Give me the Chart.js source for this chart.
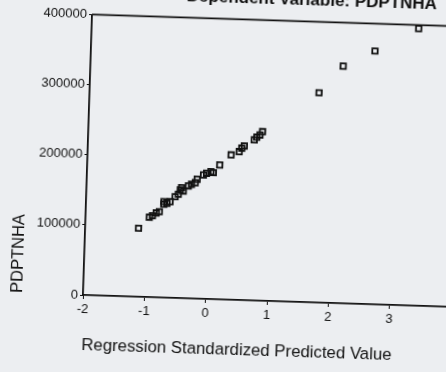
<!DOCTYPE html>
<html>
<head>
<meta charset="utf-8">
<script src="https://cdn.jsdelivr.net/npm/chart.js@4"></script>
<style>
  html, body { margin: 0; padding: 0; }
  body { width: 446px; height: 372px; overflow: hidden; background: #eceef1; position: relative; }
  /* the source is a slightly tilted photo of the plot */
  #scatter { position: absolute; left: 0; top: -20px; transform-origin: 83px 315px; transform: rotate(1.85deg); }
</style>
</head>
<body>
<canvas id="scatter" width="470" height="392"></canvas>
<script>
// x = regression standardized predicted value, y = PDPTNHA
const predicted = [-1.13, -0.96, -0.91, -0.85, -0.80, -0.73, -0.73, -0.68, -0.63, -0.55,
                   -0.50, -0.47, -0.45, -0.42, -0.34, -0.29, -0.23, -0.20, -0.10, -0.05,
                    0.02,  0.06,  0.16,  0.34,  0.47,  0.51,  0.55,  0.71,  0.75,  0.80,
                    0.84,  1.74,  2.12,  2.63,  3.33];
const pdptnha   = [97600, 113800, 116200, 120200, 122200, 133000, 136800, 134600, 137000, 144300,
                   147900, 154100, 157500, 152800, 160300, 162800, 165200, 170200, 176600, 179200,
                   181600, 180300, 191600, 206400, 211400, 216400, 219800, 228900, 232800, 236200,
                   241000, 299000, 338000, 361000, 395000];

const xTicks = [-2, -1, 0, 1, 2, 3];
const yTicks = [0, 100000, 200000, 300000, 400000];

const points = predicted.map((x, i) => ({x: x, y: pdptnha[i]}));

const ink = '#111';
const fontFamily = '"Liberation Sans", Arial, sans-serif';

// top edge of the plot frame
const frameTop = {
    id: 'frameTop',
    afterDraw(chart) {
        const {ctx, chartArea} = chart;
        ctx.save();
        ctx.strokeStyle = ink;
        ctx.lineWidth = 1.8;
        ctx.beginPath();
        ctx.moveTo(chartArea.left, chartArea.top);
        ctx.lineTo(chartArea.right, chartArea.top);
        ctx.stroke();
        ctx.restore();
    }
};

new Chart(document.getElementById('scatter'), {
    type: 'scatter',
    data: {
        datasets: [{
            data: points,
            pointStyle: 'rect',
            pointRadius: 3.8,
            pointHoverRadius: 3.8,
            borderWidth: 1.8,
            borderColor: ink,
            backgroundColor: 'rgba(0,0,0,0)'
        }]
    },
    options: {
        responsive: false,
        animation: false,
        layout: { padding: { top: 0, left: 0, right: 19, bottom: 13 } },
        plugins: {
            legend: { display: false },
            tooltip: { enabled: false },
            title: {
                display: true,
                text: 'Dependent Variable: PDPTNHA\u00a0\u00a0\u00a0\u00a0\u00a0',
                align: 'end',
                color: ink,
                font: { family: fontFamily, size: 17, weight: 'bold' },
                padding: { top: 3, bottom: 11 }
            }
        },
        scales: {
            x: {
                type: 'linear',
                min: -2,
                max: 4,
                afterBuildTicks: scale => { scale.ticks = xTicks.map(v => ({value: v})); },
                afterFit: scale => { scale.height = 64; },
                ticks: {
                    color: ink,
                    padding: 3,
                    font: { family: fontFamily, size: 13 }
                },
                grid: { display: true, drawOnChartArea: false, drawTicks: true, tickLength: 4, color: ink },
                border: { display: true, color: ink, width: 1.8 },
                title: {
                    display: true,
                    text: 'Regression Standardized Predicted Value',
                    align: 'start',
                    color: ink,
                    font: { family: fontFamily, size: 16.8 },
                    padding: { top: 4, bottom: 4 }
                }
            },
            y: {
                type: 'linear',
                min: 0,
                max: 400000,
                afterBuildTicks: scale => { scale.ticks = yTicks.map(v => ({value: v})); },
                afterFit: scale => { scale.width = 83; },
                ticks: {
                    color: ink,
                    padding: 2,
                    font: { family: fontFamily, size: 13 },
                    callback: v => String(v)
                },
                grid: { display: true, drawOnChartArea: false, drawTicks: true, tickLength: 3, color: ink },
                border: { display: true, color: ink, width: 1.8 },
                title: {
                    display: true,
                    text: 'PDPTNHA',
                    align: 'start',
                    color: ink,
                    font: { family: fontFamily, size: 16.5 },
                    padding: { top: 8, bottom: 4 }
                }
            }
        }
    },
    plugins: [frameTop]
});
</script>
</body>
</html>
